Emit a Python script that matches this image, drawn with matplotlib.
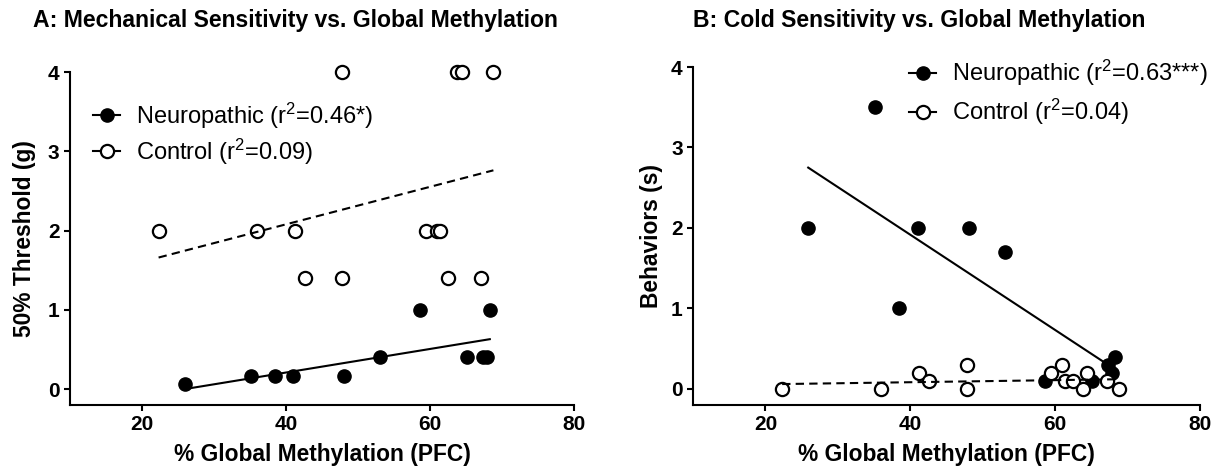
import matplotlib
matplotlib.use("Agg")
import matplotlib.pyplot as plt
from matplotlib.lines import Line2D

plt.rcParams['font.family'] = ['Liberation Sans', 'DejaVu Sans']
plt.rcParams['mathtext.fontset'] = 'custom'
plt.rcParams['mathtext.rm'] = 'Liberation Sans'

# % global methylation (PFC), shared by both panels
neuro_x = [25.9, 35.1, 38.4, 41.0, 48.1, 53.0, 58.6, 65.1, 67.3, 67.9, 68.3]
control_x = [22.3, 36.0, 41.2, 42.6, 47.8, 47.8, 59.4, 61.0, 61.4, 62.5, 63.8, 64.4, 67.1, 68.8]

# panel A: 50% threshold (g)
neuro_mech = [0.07, 0.16, 0.16, 0.16, 0.16, 0.4, 1.0, 0.4, 0.4, 0.4, 1.0]
control_mech = [2.0, 2.0, 2.0, 1.4, 4.0, 1.4, 2.0, 2.0, 2.0, 1.4, 4.0, 4.0, 1.4, 4.0]

# panel B: behaviors (s)
neuro_cold = [2.0, 3.5, 1.0, 2.0, 2.0, 1.7, 0.1, 0.1, 0.3, 0.2, 0.4]
control_cold = [0.0, 0.0, 0.2, 0.1, 0.3, 0.0, 0.2, 0.3, 0.1, 0.1, 0.0, 0.2, 0.1, 0.0]

# regression lines (ends)
mech_neuro_fit = [0.0, 0.63]
mech_control_fit = [1.66, 2.76]
cold_neuro_fit = [2.75, 0.24]
cold_control_fit = [0.06, 0.12]

panels = [
    dict(title='A: Mechanical Sensitivity vs. Global Methylation', ylabel='50% Threshold (g)',
         ny=neuro_mech, cy=control_mech, nfit=mech_neuro_fit, cfit=mech_control_fit,
         labels=['Neuropathic (r$\\mathregular{^2}$=0.46*)', 'Control (r$\\mathregular{^2}$=0.09)'],
         rect=[0.0575, 0.1492, 0.4138, 0.6995], title_x=33, ylab_x=-0.067,
         leg=(0.046, 0.915), lspace=0.25),
    dict(title='B: Cold Sensitivity vs. Global Methylation', ylabel='Behaviors (s)',
         ny=neuro_cold, cy=control_cold, nfit=cold_neuro_fit, cfit=cold_control_fit,
         labels=['Neuropathic (r$\\mathregular{^2}$=0.63***)', 'Control (r$\\mathregular{^2}$=0.04)'],
         rect=[0.569, 0.1492, 0.4163, 0.71], title_x=693, ylab_x=-0.059,
         leg=(0.426, 1.027), lspace=0.38),
]

fig = plt.figure(figsize=(12.18, 4.76), dpi=100)

for p in panels:
    ax = fig.add_axes(p['rect'])
    ax.plot(neuro_x, p['ny'], 'o', color='black', markersize=9.5, clip_on=False, zorder=3)
    ax.plot(control_x, p['cy'], 'o', mfc='white', mec='black', mew=1.6, markersize=9.5,
            clip_on=False, zorder=4)
    ax.plot([min(neuro_x), max(neuro_x)], p['nfit'], '-', color='black', lw=1.5, zorder=5)
    ax.plot([min(control_x), max(control_x)], p['cfit'], color='black', lw=1.5,
            dashes=(4, 2.5), zorder=5)

    ax.set_xlim(10, 80)
    ax.set_ylim(-0.2, 4)
    ax.set_xticks([20, 40, 60, 80])
    ax.set_yticks([0, 1, 2, 3, 4])
    for s in ['top', 'right']:
        ax.spines[s].set_visible(False)
    for s in ['left', 'bottom']:
        ax.spines[s].set_linewidth(1.5)
    ax.tick_params(width=1.5, length=4.5, labelsize=15, pad=3)
    for lab in ax.get_xticklabels() + ax.get_yticklabels():
        lab.set_fontweight('bold')

    ax.set_xlabel('% Global Methylation (PFC)', fontsize=16.4, fontweight='bold', labelpad=6)
    ax.set_ylabel(p['ylabel'], fontsize=16.4, fontweight='bold')
    ax.yaxis.set_label_coords(p['ylab_x'], 0.5)

    handles = [
        Line2D([], [], color='black', lw=1.5, marker='o', markersize=9.5, mfc='black'),
        Line2D([], [], color='black', lw=1.5, marker='o', markersize=9.5, mfc='white', mew=1.6),
    ]
    ax.legend(handles, p['labels'], loc='upper left', bbox_to_anchor=p['leg'], frameon=False,
              fontsize=17, handlelength=1.15, handletextpad=0.68, borderpad=0,
              borderaxespad=0, labelspacing=p['lspace'])

    fig.text(p['title_x'] / 1218, 1 - 20 / 476, p['title'], fontsize=16.6, fontweight='bold',
             ha='left', va='center')

fig.savefig('out.png', dpi=100)
